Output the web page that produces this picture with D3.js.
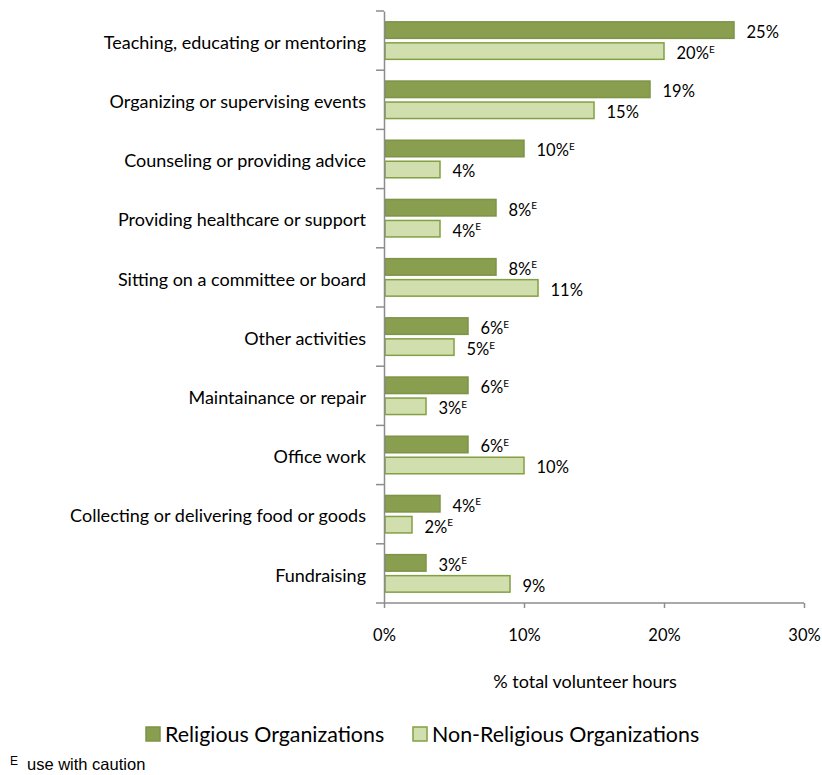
<!DOCTYPE html>
<html>
<head>
<meta charset="utf-8">
<script src="https://cdn.jsdelivr.net/npm/d3@7"></script>
<style>
  body { margin: 0; background: #fff; }
  svg { display: block; }
</style>
</head>
<body>
<svg id="chart" width="822" height="775"></svg>
<script>
// Share of total volunteer hours by activity type
const categories = [
  "Teaching, educating or mentoring",
  "Organizing or supervising events",
  "Counseling or providing advice",
  "Providing healthcare or support",
  "Sitting on a committee or board",
  "Other activities",
  "Maintainance or repair",
  "Office work",
  "Collecting or delivering food or goods",
  "Fundraising"
];
const religious     = [25, 19, 10, 8, 8, 6, 6, 6, 4, 3];
const religiousE    = [false, false, true, true, true, true, true, true, true, true];
const nonReligious  = [20, 15, 4, 4, 11, 5, 3, 10, 2, 9];
const nonReligiousE = [true, false, false, true, false, true, true, false, true, false];
const xTicks = [0, 10, 20, 30];
const seriesNames = ["Religious Organizations", "Non-Religious Organizations"];

const font = "Lato, 'Open Sans', sans-serif";
const svg = d3.select("#chart");

const plotLeft = 384, plotRight = 804, plotTop = 11, plotBottom = 603;
const x = d3.scaleLinear().domain([0, 30]).range([plotLeft, plotRight]);
const y = d3.scaleBand().domain(categories).range([plotTop, plotBottom]);

const darkFill = "#8a9e4f", darkStroke = "#7d9346";
const lightFill = "#d1dfae", lightStroke = "#83a043";
const axisColor = "#8c8c8c";

const barH = 16.5, gap = 4.5;
const padTop = (y.bandwidth() - 2 * barH - gap) / 2;

const series = [
  { vals: religious, flags: religiousE, fill: darkFill, stroke: darkStroke, off: padTop },
  { vals: nonReligious, flags: nonReligiousE, fill: lightFill, stroke: lightStroke, off: padTop + barH + gap }
];

series.forEach(s => {
  const g = svg.append("g");
  g.selectAll("rect").data(categories).join("rect")
    .attr("x", x(0) + 1)
    .attr("y", (c) => y(c) + s.off)
    .attr("width", (c, i) => x(s.vals[i]) - x(0) - 1)
    .attr("height", barH)
    .attr("fill", s.fill)
    .attr("stroke", s.stroke)
    .attr("stroke-width", 1.5);

  const t = g.selectAll("text").data(categories).join("text")
    .attr("x", (c, i) => x(s.vals[i]) + 12.5)
    .attr("y", (c) => y(c) + s.off + barH / 2)
    .attr("dy", "0.48em")
    .attr("font-family", font)
    .attr("font-size", 16.5)
    .attr("fill", "#000");
  t.append("tspan").text((c, i) => s.vals[i] + "%");
  t.append("tspan")
    .attr("font-size", 10)
    .attr("dy", "-0.65em")
    .text((c, i) => s.flags[i] ? "E" : "");
});

// category axis
const yAxis = d3.axisLeft(y).tickSize(0).tickPadding(18);
const yg = svg.append("g").attr("transform", `translate(${plotLeft},0)`).call(yAxis);
yg.select(".domain").attr("stroke", axisColor).attr("stroke-width", 1.5);
yg.selectAll(".tick text")
  .attr("font-family", font).attr("font-size", 18).attr("fill", "#000")
  .attr("dy", "0.46em");
// boundary ticks between categories
const bounds = categories.map(c => y(c)).concat([plotBottom]);
svg.append("g").selectAll("line").data(bounds).join("line")
  .attr("x1", plotLeft - 8).attr("x2", plotLeft)
  .attr("y1", d => d).attr("y2", d => d)
  .attr("stroke", axisColor).attr("stroke-width", 1.5);

// value axis
const xAxis = d3.axisBottom(x).tickValues(xTicks).tickFormat(d => d + "%").tickSize(5).tickPadding(21);
const xg = svg.append("g").attr("transform", `translate(0,${plotBottom})`).call(xAxis);
xg.select(".domain").attr("stroke", axisColor).attr("stroke-width", 1.5).attr("d", `M${plotLeft},0H${plotRight}`);
xg.selectAll(".tick line").attr("stroke", axisColor).attr("stroke-width", 1.5);
xg.selectAll(".tick text").attr("font-family", font).attr("font-size", 16.5).attr("fill", "#000");

svg.append("text")
  .attr("x", 585).attr("y", 688)
  .attr("text-anchor", "middle")
  .attr("font-family", font).attr("font-size", 18)
  .text("% total volunteer hours");

// legend
const legend = [
  { name: seriesNames[0], fill: darkFill, stroke: darkStroke, x: 146 },
  { name: seriesNames[1], fill: lightFill, stroke: lightStroke, x: 413 }
];
const lg = svg.append("g").selectAll("g").data(legend).join("g")
  .attr("transform", d => `translate(${d.x},727)`);
lg.append("rect").attr("width", 14).attr("height", 14)
  .attr("fill", d => d.fill).attr("stroke", d => d.stroke).attr("stroke-width", 1.5);
lg.append("text").attr("x", 19).attr("y", 15)
  .attr("font-family", font).attr("font-size", 21.4)
  .text(d => d.name);

// footnote
const fn = svg.append("text").attr("x", 10).attr("y", 769)
  .attr("font-family", "'Liberation Sans', Arial, sans-serif").attr("font-size", 16.5);
fn.append("tspan").attr("font-size", 12).attr("dy", "-0.3em").text("E");
fn.append("tspan").attr("x", 27).attr("dy", "0.3em").text("use with caution");
</script>
</body>
</html>
